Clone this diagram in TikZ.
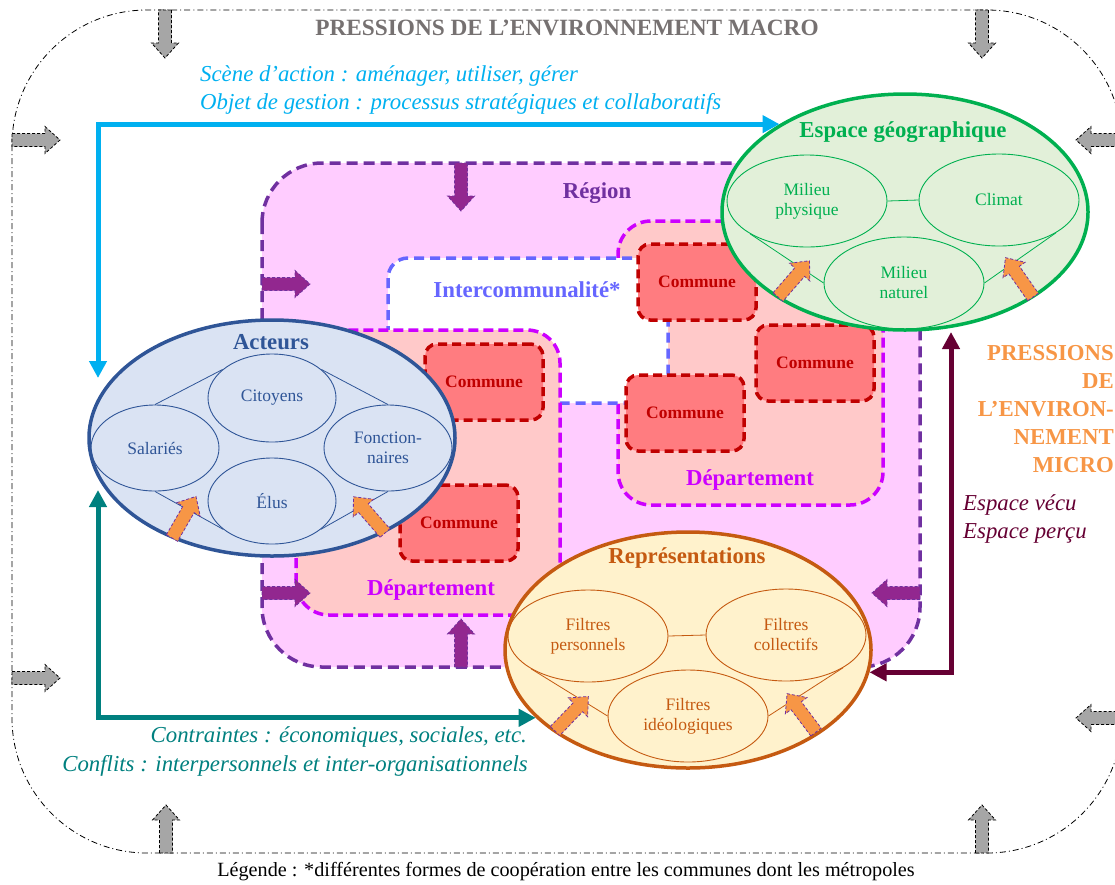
\documentclass[tikz,border=0pt]{standalone}
\usepackage{fontspec}
\setmainfont{Liberation Serif}
\usepackage{tikz}
\usetikzlibrary{arrows.meta,shapes.geometric}

% colours
\definecolor{gristitre}{HTML}{767171}
\definecolor{bleuciel}{HTML}{00B0F0}
\definecolor{sarcelle}{HTML}{00807F}
\definecolor{bordeaux}{HTML}{660033}
\definecolor{orangemicro}{HTML}{F79646}
\definecolor{violetreg}{HTML}{7030A0}
\definecolor{roseregion}{HTML}{FFCCFF}
\definecolor{violetfleche}{HTML}{92278F}
\definecolor{bleuinter}{HTML}{6666FF}
\definecolor{magentadep}{HTML}{CC00FF}
\definecolor{rosedep}{HTML}{FFC9C9}
\definecolor{rougecom}{HTML}{FF7C80}
\definecolor{bordcom}{HTML}{C00000}
\definecolor{bleuact}{HTML}{2F5597}
\definecolor{fondact}{HTML}{DAE3F3}
\definecolor{vertgeo}{HTML}{00B050}
\definecolor{fondgeo}{HTML}{E2F0D9}
\definecolor{brunrep}{HTML}{C55A11}
\definecolor{fondrep}{HTML}{FFF2CC}
\definecolor{orangefl}{HTML}{F79646}

\newcommand{\grandfont}{\fontsize{22.8}{27}\selectfont}
\newcommand{\petitfont}{\fontsize{17.5}{20}\selectfont}

\tikzset{
  pics/fleche/.style={code={
    \draw[#1] (0,-6.5) -- (33,-6.5) -- (33,-13.5) -- (48,0) -- (33,13.5) -- (33,6.5) -- (0,6.5) -- cycle;}},
  grise/.style={draw=black, fill=gray!70, line width=0.8pt, dash pattern=on 3pt off 2pt},
  violette/.style={draw=violetreg, fill=violetfleche, line width=0.8pt, dash pattern=on 3pt off 2pt},
  orangee/.style={draw=violetreg, fill=orangefl, line width=0.8pt, dash pattern=on 3pt off 2pt},
  texte/.style={inner sep=0pt, font=\grandfont},
  titre/.style={inner sep=0pt, font=\grandfont\bfseries},
  grand/.style={ellipse, line width=3.5pt, minimum width=366pt, minimum height=236pt, inner sep=0pt},
  petit/.style={ellipse, line width=0.9pt, inner sep=0pt, align=center, font=\petitfont},
  commune/.style={draw=bordcom, fill=rougecom, line width=3.5pt, dash pattern=on 9pt off 5pt,
    rounded corners=12pt, minimum width=118pt, minimum height=76pt, text=bordcom, font=\petitfont\bfseries},
  dep/.style={draw=magentadep, fill=rosedep, line width=3.5pt, dash pattern=on 10pt off 5pt, rounded corners=33pt},
  lien/.style={line width=5pt, {Triangle[length=17pt,width=17pt]}-{Triangle[length=17pt,width=17pt]}},
}

\begin{document}
\begin{tikzpicture}[x=1pt, y=-1pt]
  \useasboundingbox (0,0) rectangle (1115,884);

  % macro environment
  \draw[line width=0.8pt, dash pattern=on 6pt off 3pt on 1pt off 3pt, rounded corners=135pt] (12,10) rectangle (1122,853);
  \pic[rotate=-90] at (165,10) {fleche=grise};
  \pic[rotate=-90] at (982,10) {fleche=grise};
  \pic at (12,140) {fleche=grise};
  \pic at (12,678) {fleche=grise};
  \pic[rotate=180] at (1124,140) {fleche=grise};
  \pic[rotate=180] at (1124,718) {fleche=grise};
  \pic[rotate=90] at (166,853) {fleche=grise};
  \pic[rotate=90] at (982,853) {fleche=grise};
  \node[titre, text=gristitre, font=\fontsize{23.3}{27}\selectfont\bfseries] (macro) at (567,28) {PRESSIONS DE L’ENVIRONNEMENT MACRO};

  % side texts
  \node[texte, text=bleuciel, anchor=west, font=\grandfont\itshape] (scene) at (200,76) {Scène d’action : aménager, utiliser, gérer};
  \node[texte, text=bleuciel, anchor=west, font=\grandfont\itshape] (objet) at (200,104) {Objet de gestion : processus stratégiques et collaboratifs};
  \node[texte, text=sarcelle, anchor=east, font=\grandfont\itshape] (contraintes) at (527,737) {Contraintes : économiques, sociales, etc.};
  \node[texte, text=sarcelle, anchor=east, font=\grandfont\itshape] (conflits) at (528,766) {Conflits : interpersonnels et inter-organisationnels};
  \node[texte, text=bordeaux, anchor=west, font=\grandfont\itshape] (vecu) at (963,505) {Espace vécu};
  \node[texte, text=bordeaux, anchor=west, font=\grandfont\itshape] (percu) at (963,533) {Espace perçu};
  \node[titre, text=orangemicro, anchor=east, align=right, font=\fontsize{22.8}{28}\selectfont\bfseries] (micro) at (1114,409)
    {PRESSIONS\\DE\\L’ENVIRON-\\NEMENT\\MICRO};
  \node[inner sep=0pt, font=\fontsize{20.2}{23}\selectfont] (legende) at (566,872)
    {Légende : *différentes formes de coopération entre les communes dont les métropoles};

  % territories
  \draw[violetreg, fill=roseregion, line width=3.5pt, dash pattern=on 11pt off 6pt, rounded corners=60pt] (262,163) rectangle (920,667);
  \draw[dep] (618,221) rectangle (883,505);
  \draw[bleuinter, fill=white, line width=3.5pt, dash pattern=on 10pt off 6pt, rounded corners=20pt] (388,258) rectangle (668,403);
  \draw[dep] (296,330) rectangle (560,615);
  \pic[rotate=-90] at (461,163) {fleche=violette};
  \pic at (262,284) {fleche=violette};
  \pic at (262,593) {fleche=violette};
  \pic[rotate=90] at (461,667) {fleche=violette};
  \pic[rotate=180] at (920,593) {fleche=violette};
  \node[titre, text=violetreg] (region) at (597,193) {Région};
  \node[titre, text=bleuinter] (interco) at (527,290) {Intercommunalité*};
  \node[titre, text=magentadep] (depg) at (431,590) {Département};
  \node[titre, text=magentadep] (depd) at (750,480) {Département};

  % communes
  \node[commune] (com1) at (484,382) {Commune};
  \node[commune] (com2) at (459,523) {Commune};
  \node[commune] (com3) at (697,282) {Commune};
  \node[commune] (com4) at (815,363) {Commune};
  \node[commune] (com5) at (685,413) {Commune};

  % Acteurs
  \node[grand, draw=bleuact, fill=fondact] (acteurs) at (272,438) {};
  \node[titre, text=bleuact] (acteurs-t) at (271,342) {Acteurs};
  \node[petit, draw=bleuact, text=bleuact, minimum width=128pt, minimum height=88pt] (cit) at (272,398) {Citoyens};
  \node[petit, draw=bleuact, text=bleuact, minimum width=128pt, minimum height=86pt] (sal) at (155,448) {Salariés};
  \node[petit, draw=bleuact, text=bleuact, minimum width=128pt, minimum height=86pt] (fon) at (388,448) {Fonction-\\naires};
  \node[petit, draw=bleuact, text=bleuact, minimum width=128pt, minimum height=86pt] (elu) at (272,501) {Élus};
  \draw[bleuact, line width=0.8pt] (sal.north) -- (cit.150);
  \draw[bleuact, line width=0.8pt] (cit.30) -- (fon.north);
  \draw[bleuact, line width=0.8pt] (sal.south) -- (elu.210);
  \draw[bleuact, line width=0.8pt] (elu.330) -- (fon.south);
  \pic[rotate=60] at (172,538) {fleche=orangee};
  \pic[rotate=131] at (385,533) {fleche=orangee};

  % Espace geographique
  \node[grand, draw=vertgeo, fill=fondgeo] (geo) at (905,212) {};
  \node[titre, text=vertgeo] (geo-t) at (903,132) {Espace géographique};
  \node[petit, draw=vertgeo, text=vertgeo, minimum width=160pt, minimum height=92pt] (mp) at (807,201) {Milieu\\physique};
  \node[petit, draw=vertgeo, text=vertgeo, minimum width=160pt, minimum height=92pt] (cli) at (999,200) {Climat};
  \node[petit, draw=vertgeo, text=vertgeo, minimum width=160pt, minimum height=92pt] (mn) at (904,283) {Milieu\\naturel};
  \draw[vertgeo, line width=0.8pt] (mp.east) -- (cli.west);
  \draw[vertgeo, line width=0.8pt] (mp.south west) -- (mn.west);
  \draw[vertgeo, line width=0.8pt] (cli.south east) -- (mn.east);
  \pic[rotate=49] at (778,297) {fleche=orangee};
  \pic[rotate=125] at (1033,297) {fleche=orangee};

  % Representations
  \node[grand, draw=brunrep, fill=fondrep] (rep) at (688,650) {};
  \node[titre, text=brunrep] (rep-t) at (687,558) {Représentations};
  \node[petit, draw=brunrep, text=brunrep, minimum width=160pt, minimum height=92pt] (fp) at (588,636) {Filtres\\personnels};
  \node[petit, draw=brunrep, text=brunrep, minimum width=160pt, minimum height=92pt] (fc) at (786,635) {Filtres\\collectifs};
  \node[petit, draw=brunrep, text=brunrep, minimum width=160pt, minimum height=92pt] (fi) at (688,716) {Filtres\\idéologiques};
  \draw[brunrep, line width=0.8pt] (fp.east) -- (fc.west);
  \draw[brunrep, line width=0.8pt] (fp.south west) -- (fi.west);
  \draw[brunrep, line width=0.8pt] (fc.south east) -- (fi.east);
  \pic[rotate=46] at (555,731) {fleche=orangee};
  \pic[rotate=127] at (816,732) {fleche=orangee};

  % links between the three poles
  \coordinate (acteurs-haut) at (98,378);
  \coordinate (acteurs-bas) at (98,490);
  \coordinate (geo-bas) at (951,332);
  \draw[lien, bleuciel] (acteurs-haut) |- (geo.145);
  \draw[lien, sarcelle] (acteurs-bas) |- (rep.204);
  \draw[lien, bordeaux] (rep.353) -| (geo-bas);
\end{tikzpicture}
\end{document}
